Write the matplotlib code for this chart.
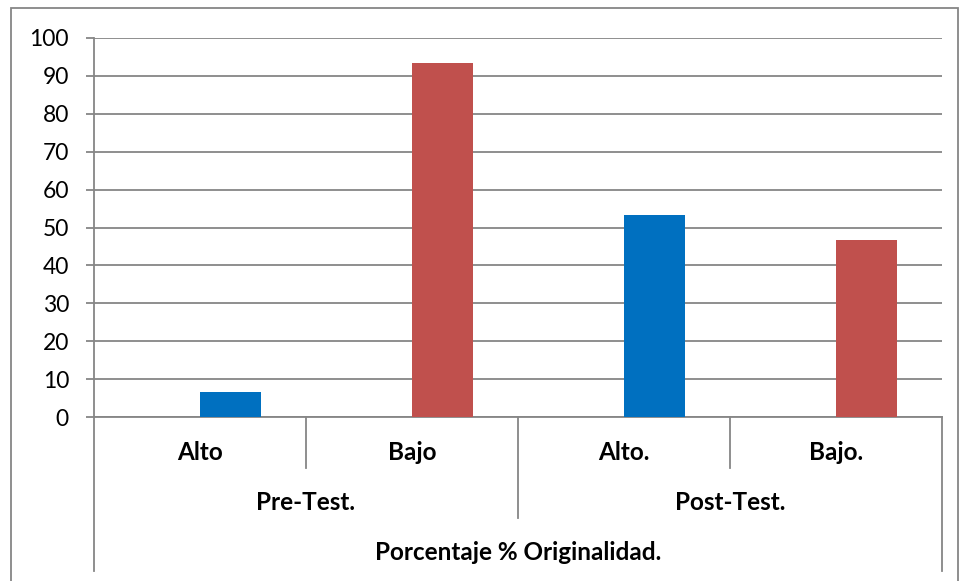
import matplotlib.pyplot as plt
import matplotlib.transforms as mtransforms
from matplotlib.patches import Rectangle

# data
categories = ['Alto', 'Bajo', 'Alto.', 'Bajo.']
values = [6.67, 93.33, 53.33, 46.67]
bar_colors = ['#0070C0', '#C0504D', '#0070C0', '#C0504D']
groups = ['Pre-Test.', 'Post-Test.']
group_size = 2
axis_title = 'Porcentaje % Originalidad.'

plt.rcParams['font.family'] = ['Lato', 'DejaVu Sans']
grey = '#868686'
W, H = 960, 581

def fy(py):
    return 1 - py / H

fig = plt.figure(figsize=(W / 100, H / 100), dpi=100)
ax = fig.add_axes([94 / W, fy(417), 848 / W, (417 - 38) / H])

x = list(range(len(categories)))
ax.bar(x, values, width=0.288, align='edge', color=bar_colors, zorder=3)

ax.set_xlim(-0.5, len(categories) - 0.5)
ax.set_ylim(0, 100)
ax.set_yticks(range(0, 101, 10))
ax.tick_params(axis='y', labelsize=16.5, length=6, width=1.3, color=grey, pad=12)
ax.set_xticks([])
ax.grid(axis='y', color=grey, linewidth=1.3, zorder=0)
for s in ['top', 'right']:
    ax.spines[s].set_visible(False)
for s in ['left', 'bottom']:
    ax.spines[s].set_color(grey)
    ax.spines[s].set_linewidth(1.3)

# multi-level category axis
tr = mtransforms.blended_transform_factory(ax.transData, fig.transFigure)
row1, row2, row3 = 452, 503, 553
fs = 17.5
for i, c in enumerate(categories):
    ax.text(i, fy(row1), c, transform=tr, ha='center', va='center',
            fontsize=fs, fontweight='bold')
for g, name in enumerate(groups):
    cx = g * group_size + (group_size - 1) / 2
    ax.text(cx, fy(row2), name, transform=tr, ha='center', va='center',
            fontsize=fs, fontweight='bold')
ax.text((len(categories) - 1) / 2, fy(row3), axis_title, transform=tr,
        ha='center', va='center', fontsize=fs, fontweight='bold')

n = len(categories)
for b in range(n + 1):
    xb = b - 0.5
    if b == 0 or b == n:
        bottom = 571
    elif b % group_size == 0:
        bottom = 518
    else:
        bottom = 468
    ax.plot([xb, xb], [fy(417), fy(bottom)], transform=tr, color=grey,
            linewidth=1.3, clip_on=False)

# outer chart frame
fig.patches.append(Rectangle((11 / W, -0.1), (958 - 11) / W, 1.1 - 8 / H,
                             transform=fig.transFigure, fill=False,
                             edgecolor=grey, linewidth=1.3))

fig.savefig('out.png', dpi=100)
